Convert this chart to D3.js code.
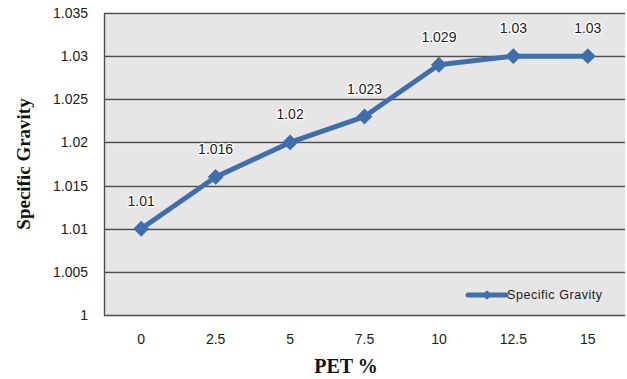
<!DOCTYPE html>
<html>
<head>
<meta charset="utf-8">
<script src="https://cdn.jsdelivr.net/npm/d3@7/dist/d3.min.js"></script>
<style>
  html, body { margin: 0; padding: 0; background: #fff; }
</style>
</head>
<body>
<svg id="chart" width="627" height="379"></svg>
<script>
// PET content (%) and measured specific gravity
const categories = ["0", "2.5", "5", "7.5", "10", "12.5", "15"];
const specificGravity = [1.01, 1.016, 1.02, 1.023, 1.029, 1.03, 1.03];
const yTicks = [1, 1.005, 1.01, 1.015, 1.02, 1.025, 1.03, 1.035];
const seriesName = "Specific Gravity";

const svg = d3.select("#chart");
const plot = { left: 104, right: 625, top: 13, bottom: 315 };
const lineColor = "#3e6eab";
const sans = "'Liberation Sans', 'DejaVu Sans', sans-serif";
const serif = "'Liberation Serif', 'DejaVu Serif', serif";

const x = d3.scaleBand().domain(categories).range([plot.left, plot.right]);
const y = d3.scaleLinear().domain([1, 1.035]).range([plot.bottom, plot.top]);
const cx = d => x(d) + x.bandwidth() / 2;

// plot area background
svg.append("rect")
  .attr("x", plot.left).attr("y", plot.top)
  .attr("width", plot.right - plot.left).attr("height", plot.bottom - plot.top)
  .attr("fill", "#e6e6e6");

// horizontal gridlines with a faint light edge beneath
const grid = svg.append("g");
grid.selectAll("line.hl").data(yTicks).join("line")
  .attr("x1", plot.left).attr("x2", plot.right)
  .attr("y1", d => Math.round(y(d)) + 1.8).attr("y2", d => Math.round(y(d)) + 1.8)
  .attr("stroke", "#f8f8f8").attr("stroke-width", 1);
grid.selectAll("line.g").data(yTicks).join("line")
  .attr("x1", plot.left).attr("x2", plot.right)
  .attr("y1", d => Math.round(y(d)) + 0.5).attr("y2", d => Math.round(y(d)) + 0.5)
  .attr("stroke", "#4e4e4e").attr("stroke-width", 1.4);

// plot frame (left edge)
svg.append("line")
  .attr("x1", plot.left + 0.5).attr("x2", plot.left + 0.5)
  .attr("y1", plot.top).attr("y2", plot.bottom + 0.5)
  .attr("stroke", "#4e4e4e").attr("stroke-width", 1.4);

const halo = sel => sel
  .attr("paint-order", "stroke")
  .attr("stroke", "#fff").attr("stroke-width", 2.5).attr("stroke-linejoin", "round");

// y axis tick labels
const yAxis = svg.append("g")
  .attr("transform", `translate(${plot.left - 16},0)`)
  .call(d3.axisLeft(y).tickValues(yTicks).tickSize(0).tickPadding(0)
    .tickFormat(d => d3.format("")(+d.toFixed(3))));
yAxis.select(".domain").remove();
yAxis.selectAll("text")
  .style("font-family", sans).style("font-size", "14px")
  .attr("fill", "#1a1a1a").attr("dy", "0.32em").call(halo);

// x axis tick labels
const xAxis = svg.append("g")
  .attr("transform", `translate(0,${plot.bottom + 19})`)
  .call(d3.axisBottom(x).tickSize(0).tickPadding(0));
xAxis.select(".domain").remove();
xAxis.selectAll("text")
  .style("font-family", sans).style("font-size", "14px")
  .attr("fill", "#1a1a1a").attr("dy", "0.71em").call(halo);

// axis titles
svg.append("text")
  .attr("transform", `translate(30,${(plot.top + plot.bottom) / 2}) rotate(-90)`)
  .attr("text-anchor", "middle")
  .style("font-family", serif).style("font-weight", "bold").style("font-size", "19px")
  .attr("fill", "#111")
  .text("Specific Gravity");

svg.append("text")
  .attr("x", 346).attr("y", 373)
  .attr("text-anchor", "middle")
  .style("font-family", serif).style("font-weight", "bold").style("font-size", "20px")
  .attr("fill", "#111")
  .text("PET %");

// data line
const pts = categories.map((c, i) => ({ c, v: specificGravity[i] }));
svg.append("path")
  .datum(pts)
  .attr("fill", "none").attr("stroke", lineColor)
  .attr("stroke-width", 5).attr("stroke-linejoin", "round")
  .attr("d", d3.line().x(d => cx(d.c)).y(d => y(d.v)));

// diamond markers
const diamond = d3.symbol().type(d3.symbolDiamond2).size(160);
svg.selectAll("path.marker").data(pts).join("path")
  .attr("class", "marker")
  .attr("transform", d => `translate(${cx(d.c)},${y(d.v)})`)
  .attr("d", diamond)
  .attr("fill", lineColor);

// value labels above each point
svg.selectAll("text.val").data(pts).join("text")
  .attr("class", "val")
  .attr("x", d => cx(d.c))
  .attr("y", d => y(d.v) - 23)
  .attr("text-anchor", "middle")
  .style("font-family", sans).style("font-size", "14px")
  .attr("fill", "#1a1a1a")
  .text(d => d.v)
  .call(halo);

// legend
const lg = svg.append("g").attr("transform", "translate(468,295)");
lg.append("line").attr("x1", 0).attr("x2", 38).attr("y1", 0).attr("y2", 0)
  .attr("stroke", lineColor).attr("stroke-width", 5).attr("stroke-linecap", "round");
lg.append("path").attr("transform", "translate(19,0)")
  .attr("d", d3.symbol().type(d3.symbolDiamond2).size(60)).attr("fill", lineColor);
lg.append("text").attr("x", 39).attr("y", 0).attr("dy", "0.35em")
  .style("font-family", sans).style("font-size", "12.5px").style("letter-spacing", "0.55px")
  .attr("fill", "#1a1a1a").text(seriesName);
</script>
</body>
</html>
